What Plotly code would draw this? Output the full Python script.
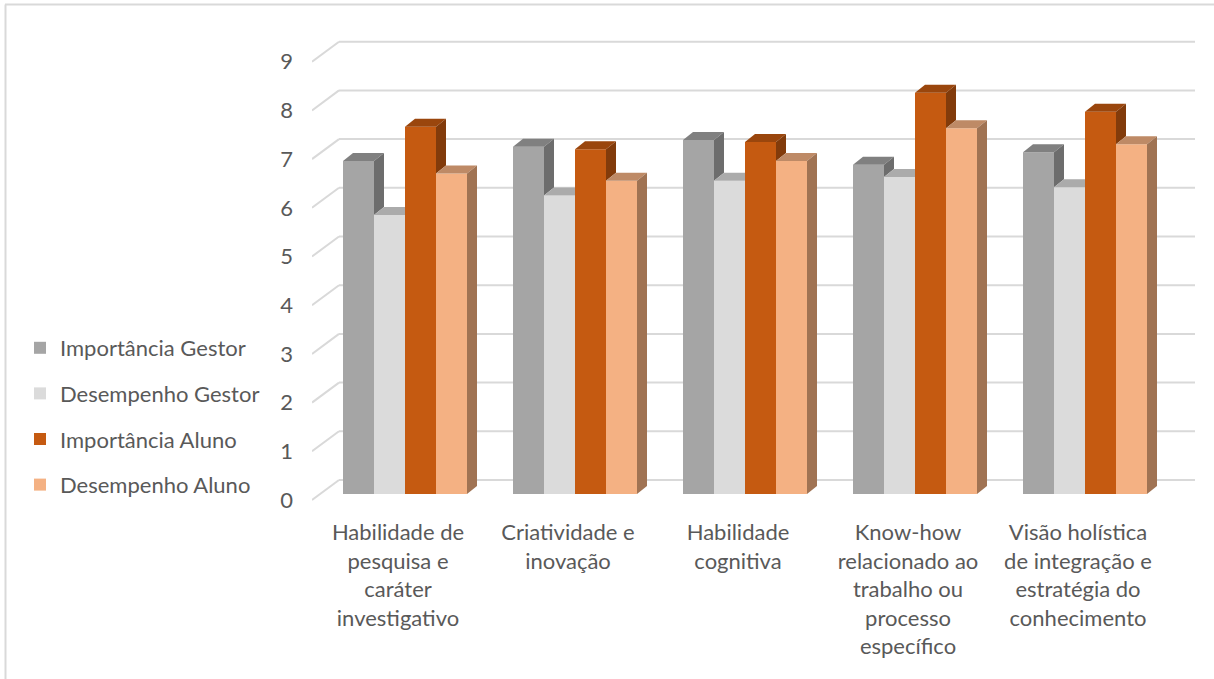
import plotly.graph_objects as go

# ---- data -------------------------------------------------------------
categories = [
    "Habilidade de<br>pesquisa e<br>caráter<br>investigativo",
    "Criatividade e<br>inovação",
    "Habilidade<br>cognitiva",
    "Know-how<br>relacionado ao<br>trabalho ou<br>processo<br>específico",
    "Visão holística<br>de integração e<br>estratégia do<br>conhecimento",
]
series_names = ["Importância Gestor", "Desempenho Gestor",
                "Importância Aluno", "Desempenho Aluno"]
importancia_gestor = [6.84, 7.13, 7.27, 6.76, 7.02]
desempenho_gestor = [5.73, 6.13, 6.43, 6.51, 6.30]
importancia_aluno = [7.54, 7.08, 7.23, 8.24, 7.85]
desempenho_aluno = [6.58, 6.43, 6.84, 7.51, 7.18]
y_ticks = [0, 1, 2, 3, 4, 5, 6, 7, 8, 9]

series_values = [importancia_gestor, desempenho_gestor,
                 importancia_aluno, desempenho_aluno]

# face colours: front, top, side
face_colors = [
    ("#A5A5A5", "#808080", "#6D6D6D"),
    ("#DBDBDB", "#ABABAB", "#939393"),
    ("#C55A11", "#9A460D", "#823B0B"),
    ("#F4B183", "#BE8A66", "#A07353"),
]

# ---- geometry (pixel scales of the plot area) -------------------------
W_PX, H_PX = 1214, 679
PLOT_L, PLOT_R, PLOT_T, PLOT_B = 312, 1195, 20, 510
CAT_PX = 170.0          # pixels per category
VAL_PX = 48.7           # pixels per unit of value
GROUP_CENTER0 = 405.0   # pixel x of first group centre
BASE_PX = 494.0         # pixel y of the bar bases

x_min = (PLOT_L - GROUP_CENTER0) / CAT_PX
x_max = (PLOT_R - GROUP_CENTER0) / CAT_PX
y_min = (BASE_PX - PLOT_B) / VAL_PX
y_max = (BASE_PX - PLOT_T) / VAL_PX

bar_w = 31.0 / CAT_PX
group_off = -2 * bar_w
depth_dx = 10.0 / CAT_PX          # bar depth, projected
depth_dy = 8.0 / VAL_PX
front_shift = -6.0 / VAL_PX       # front plane relative to bar plane
back_shift = 14.0 / VAL_PX        # back wall relative to bar plane
back_x = (339 - GROUP_CENTER0) / CAT_PX
label_shift = -7.0 / CAT_PX

TEXT = "#595959"
GRID = "#D9D9D9"
FONT = "Lato"
FS = 22

fig = go.Figure()

# front faces
for j, (name, vals) in enumerate(zip(series_names, series_values)):
    fig.add_trace(go.Bar(
        name=name, legendgroup=name,
        x=list(range(len(vals))), y=vals, base=0,
        offset=group_off + j * bar_w, width=bar_w,
        marker=dict(color=face_colors[j][0], line=dict(width=0)),
        hoverinfo="skip",
    ))

# top and side faces (hidden parts trimmed against the next bar)
for j, vals in enumerate(series_values):
    tx, ty, sx, sy = [], [], [], []
    for k, h in enumerate(vals):
        l = k + group_off + j * bar_w
        r = l + bar_w
        nxt = series_values[j + 1][k] if j + 1 < len(series_values) else None
        # top face
        if nxt is None or nxt <= h:
            px = [l, r, r + depth_dx, l + depth_dx, l]
            py = [h, h, h + depth_dy, h + depth_dy, h]
        elif nxt >= h + depth_dy:
            px = [l, r, r, l + depth_dx, l]
            py = [h, h, h + depth_dy, h + depth_dy, h]
        else:
            xc = r + depth_dx * (nxt - h) / depth_dy
            px = [l, r, r, xc, r + depth_dx, l + depth_dx, l]
            py = [h, h, nxt, nxt, h + depth_dy, h + depth_dy, h]
        tx += px + [None]
        ty += py + [None]
        # side face
        low = 0 if nxt is None else nxt
        if low < h:
            sx += [r, r + depth_dx, r + depth_dx, r, r, None]
            sy += [low, low + depth_dy, h + depth_dy, h, low, None]
    for xs, ys, col in ((tx, ty, face_colors[j][1]), (sx, sy, face_colors[j][2])):
        fig.add_trace(go.Scatter(
            x=xs, y=ys, mode="lines", fill="toself", fillcolor=col,
            line=dict(width=0, color=col), showlegend=False, hoverinfo="skip",
        ))

# back wall gridlines and their slanted floor/side segments
for v in y_ticks:
    fig.add_shape(type="line", layer="below", xref="x", yref="y",
                  x0=back_x, x1=x_max, y0=v + back_shift, y1=v + back_shift,
                  line=dict(color=GRID, width=2))
    fig.add_shape(type="line", layer="below", xref="x", yref="y",
                  x0=x_min, x1=back_x, y0=v + front_shift, y1=v + back_shift,
                  line=dict(color=GRID, width=2))

# chart frame (top and left edges)
fig.add_shape(type="line", xref="paper", yref="paper",
              x0=(5 - PLOT_L) / (PLOT_R - PLOT_L), x1=(W_PX - PLOT_L) / (PLOT_R - PLOT_L),
              y0=(PLOT_B - 4.5) / (PLOT_B - PLOT_T), y1=(PLOT_B - 4.5) / (PLOT_B - PLOT_T),
              line=dict(color=GRID, width=2))
fig.add_shape(type="line", xref="paper", yref="paper",
              x0=(5.5 - PLOT_L) / (PLOT_R - PLOT_L), x1=(5.5 - PLOT_L) / (PLOT_R - PLOT_L),
              y0=(PLOT_B - 4.5) / (PLOT_B - PLOT_T), y1=(PLOT_B - H_PX) / (PLOT_B - PLOT_T),
              line=dict(color=GRID, width=2))

fig.update_layout(
    width=W_PX, height=H_PX,
    margin=dict(l=PLOT_L, r=W_PX - PLOT_R, t=PLOT_T, b=H_PX - PLOT_B),
    paper_bgcolor="white", plot_bgcolor="white",
    barmode="overlay",
    font=dict(family=FONT, size=FS, color=TEXT),
    showlegend=True,
    legend=dict(
        xref="container", yref="container",
        x=20 / W_PX, y=1 - 327 / H_PX, xanchor="left", yanchor="top",
        font=dict(family=FONT, size=FS, color=TEXT),
        tracegroupgap=14, bgcolor="rgba(0,0,0,0)",
    ),
    xaxis=dict(
        range=[x_min, x_max], showgrid=False, zeroline=False, showline=False,
        tickmode="array",
        tickvals=[k + label_shift for k in range(len(categories))],
        ticktext=categories, ticks="", ticklabelstandoff=7,
        tickfont=dict(family=FONT, size=FS, color=TEXT),
    ),
    yaxis=dict(
        range=[y_min, y_max], showgrid=False, zeroline=False, showline=False,
        tickmode="array",
        tickvals=[v + front_shift for v in y_ticks],
        ticktext=[str(v) for v in y_ticks], ticks="", ticklabelstandoff=18,
        tickfont=dict(family=FONT, size=FS, color=TEXT),
    ),
)

fig.write_html("out.html")
